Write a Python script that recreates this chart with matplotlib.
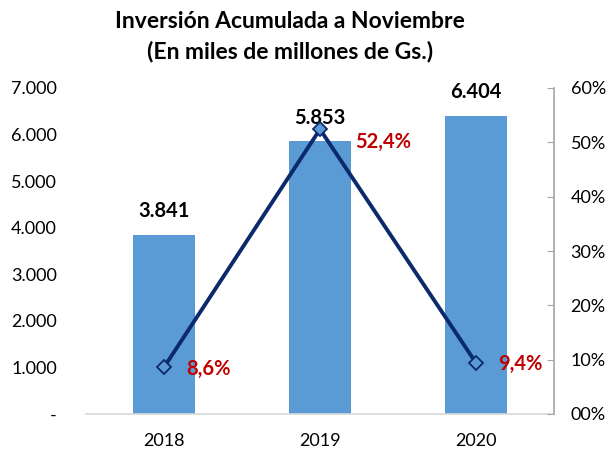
import matplotlib
matplotlib.use("Agg")
import matplotlib.pyplot as plt

plt.rcParams['font.family'] = ['Lato', 'DejaVu Sans']

years = ["2018", "2019", "2020"]
inversion = [3841, 5853, 6404]
variacion = [8.6, 52.4, 9.4]
bar_labels = ["3.841", "5.853", "6.404"]
pct_labels = ["8,6%", "52,4%", "9,4%"]
left_ticks = [0, 1000, 2000, 3000, 4000, 5000, 6000, 7000]
left_ticklabels = ["-", "1.000", "2.000", "3.000", "4.000", "5.000", "6.000", "7.000"]
right_ticks = [0, 10, 20, 30, 40, 50, 60]
right_ticklabels = ["00%", "10%", "20%", "30%", "40%", "50%", "60%"]

fig = plt.figure(figsize=(6.14, 4.51), dpi=100)
ax = fig.add_axes([86/614, 1-414/451, (554-86)/614, (414-88)/451])
x = list(range(len(years)))
bar_color = "#5B9BD5"
ax.bar(x, inversion, width=0.4, color=bar_color, zorder=2)
ax.set_xlim(-0.5, 2.5)
ax.set_ylim(0, 7000)
ax.set_yticks(left_ticks)
ax.set_yticklabels(left_ticklabels)
ax.set_xticks(x)
ax.set_xticklabels(years)
for s in ["top", "right", "left"]:
    ax.spines[s].set_visible(False)
ax.spines["bottom"].set_color("#D9D9D9")
ax.spines["bottom"].set_linewidth(1.2)
ax.tick_params(axis="x", length=0, labelsize=13, colors="#000000", pad=14)
ax.tick_params(axis="y", length=0, labelsize=13, colors="#000000", pad=21)
for xi, v, lab in zip(x, inversion, bar_labels):
    ax.annotate(lab, (xi, v), xytext=(0, 10), textcoords="offset points",
                ha="center", va="bottom", fontsize=14.5, fontweight="bold")

ax2 = ax.twinx()
ax2.set_ylim(0, 60)
ax2.set_yticks(right_ticks)
ax2.set_yticklabels(right_ticklabels)
for s in ["top", "left", "bottom"]:
    ax2.spines[s].set_visible(False)
ax2.spines["right"].set_color("#A6A6A6")
ax2.spines["right"].set_linewidth(1.2)
ax2.tick_params(axis="y", direction="in", length=5, color="#A6A6A6", labelsize=13, pad=12)
ax2.plot(x, variacion, color="#0B2A6B", linewidth=2.8, marker="D", markersize=7,
         markerfacecolor=bar_color, markeredgecolor="#0B2A6B", markeredgewidth=1.3, zorder=3)
for xi, v, lab in zip(x, variacion, pct_labels):
    off = (16, -1) if v < 30 else (25, -9)
    ax2.annotate(lab, (xi, v), xytext=off, textcoords="offset points",
                 ha="left", va="center", fontsize=14.5, fontweight="bold", color="#C00000")

fig.text(290/614, 1-22/451, "Inversión Acumulada a Noviembre", ha="center", va="center",
         fontsize=16.5, fontweight="bold")
fig.text(290/614, 1-52/451, "(En miles de millones de Gs.)", ha="center", va="center",
         fontsize=16.5, fontweight="bold")

fig.savefig("out.png", dpi=100)
